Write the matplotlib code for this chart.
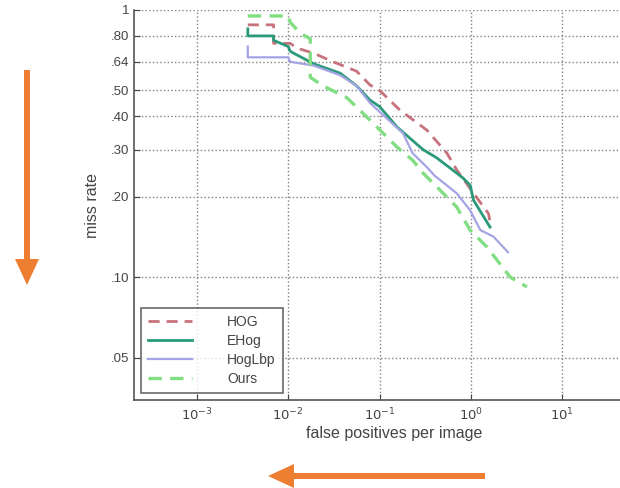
import numpy as np
import matplotlib
matplotlib.use("Agg")
import matplotlib.pyplot as plt
from matplotlib.patches import FancyArrow

plt.rcParams['font.family'] = ['Liberation Sans', 'DejaVu Sans']

# miss rate vs false positives per image
hog_x = [0.0036, 0.0069, 0.0069, 0.0105, 0.0124, 0.0188, 0.031, 0.056, 0.0785, 0.10,
         0.167, 0.33, 0.547, 0.70, 1.07, 1.56, 1.62]
hog_y = [0.88, 0.88, 0.75, 0.75, 0.72, 0.69, 0.64, 0.59, 0.524, 0.50,
         0.422, 0.355, 0.291, 0.252, 0.206, 0.173, 0.161]

ehog_x = [0.0036, 0.0036, 0.0069, 0.0069, 0.010, 0.0105, 0.0188, 0.037, 0.056, 0.0785,
          0.10, 0.155, 0.30, 0.42, 0.63, 0.82, 0.98, 1.07, 1.62]
ehog_y = [0.85, 0.80, 0.80, 0.77, 0.73, 0.70, 0.63, 0.58, 0.52, 0.46,
          0.435, 0.365, 0.30, 0.28, 0.252, 0.235, 0.221, 0.194, 0.154]

lbp_x = [0.0036, 0.0036, 0.010, 0.0105, 0.0188, 0.037, 0.056, 0.0785, 0.10, 0.18,
         0.23, 0.33, 0.40, 0.70, 0.98, 1.27, 1.76, 2.55]
lbp_y = [0.73, 0.665, 0.665, 0.64, 0.62, 0.57, 0.52, 0.449, 0.416, 0.346,
         0.291, 0.258, 0.24, 0.206, 0.178, 0.150, 0.142, 0.124]

ours_x = [0.0036, 0.010, 0.0105, 0.0134, 0.0174, 0.0174, 0.024, 0.0437, 0.0785, 0.155,
          0.23, 0.30, 0.39, 0.70, 0.98, 1.49, 2.7, 4.1]
ours_y = [0.95, 0.95, 0.90, 0.82, 0.78, 0.56, 0.52, 0.47, 0.387, 0.307,
          0.274, 0.245, 0.224, 0.183, 0.150, 0.130, 0.100, 0.092]

yticks = [0.05, 0.10, 0.20, 0.30, 0.40, 0.50, 0.64, 0.80, 1.0]
ytick_labels = ['.05', '.10', '.20', '.30', '.40', '.50', '.64', '.80', '1']
xticks = [1e-3, 1e-2, 1e-1, 1e0, 1e1]
xtick_labels = [r'$10^{-3}$', r'$10^{-2}$', r'$10^{-1}$', r'$10^{0}$', r'$10^{1}$']

fig = plt.figure(figsize=(6.2, 4.88), dpi=100)
# axes run past the right edge of the picture, like the cropped original
ax = fig.add_axes([134/620, 88/488, 519.5/620, 390/488])

ax.plot(hog_x, hog_y, '--', color='#c8727e', lw=2.0, dashes=(4, 2.5), label='HOG')
ax.plot(ehog_x, ehog_y, '-', color='#2a9a7a', lw=2.0, label='EHog')
ax.plot(lbp_x, lbp_y, '-', color='#a4a4e4', lw=1.6, label='HogLbp')
ax.plot(ours_x, ours_y, '--', color='#82de82', lw=2.4, dashes=(4, 2.5), label='Ours')

ax.set_xscale('log')
ax.set_yscale('log')
ax.set_xlim(10**-3.69, 100)
ax.set_ylim(0.0347, 1.0)

ax.set_yticks(yticks)
ax.set_yticklabels(ytick_labels)
ax.set_xticks(xticks)
ax.set_xticklabels(xtick_labels)
ax.minorticks_off()
ax.tick_params(direction='in', length=4, colors='#444', labelsize=9.5, labelcolor='#444')
ax.tick_params(axis='x', pad=5)

ax.grid(True, ls=':', color='#808080', lw=1.0)
ax.spines['top'].set_visible(False)
ax.spines['right'].set_visible(False)
for s in ('left', 'bottom'):
    ax.spines[s].set_color('#555')
    ax.spines[s].set_linewidth(1.2)

ax.set_xlabel('false positives per image', fontsize=11.5, color='#444', labelpad=2)
ax.set_ylabel('miss rate', fontsize=11.5, color='#444', labelpad=8)

leg = ax.legend(loc='lower left', bbox_to_anchor=(0.0135, 0.018), fancybox=False,
                fontsize=10, handlelength=3.2, handletextpad=2.5, borderaxespad=0,
                labelspacing=0.37, borderpad=0.5)
leg.get_frame().set_edgecolor('#444')
leg.get_frame().set_linewidth(1.2)
for t in leg.get_texts():
    t.set_color('#444')

# orange arrows drawn on an overlay in pixel units
ov = fig.add_axes([0, 0, 1, 1], facecolor='none')
ov.set_xlim(0, 620)
ov.set_ylim(488, 0)
ov.axis('off')
orange = '#ed7d31'
ov.add_patch(FancyArrow(27, 70, 0, 215, width=6, head_width=24, head_length=26,
                        length_includes_head=True, color=orange, lw=0))
ov.add_patch(FancyArrow(485, 476, -217, 0, width=6, head_width=24, head_length=26,
                        length_includes_head=True, color=orange, lw=0))

fig.savefig('out.png', dpi=100)
